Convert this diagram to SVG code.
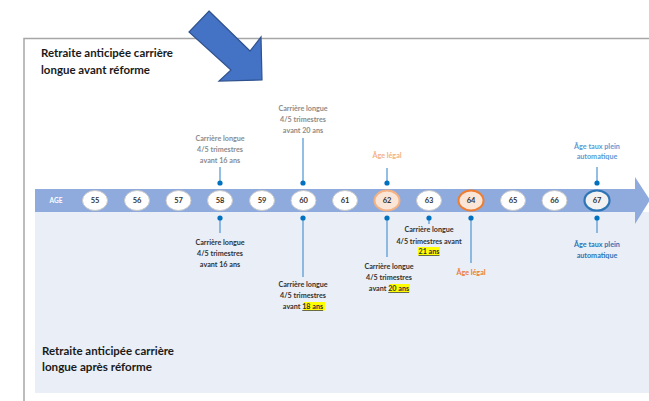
<svg xmlns="http://www.w3.org/2000/svg" width="649" height="401" viewBox="0 0 649 401">
<style>
.title{font-family:Lato,"Liberation Sans",sans-serif;font-weight:bold;font-size:12px;fill:#1a1a1a}
.lbl{font-family:Lato,"Liberation Sans",sans-serif;font-weight:bold;font-size:7.2px;text-anchor:middle}
.gray{fill:#8c8c8c}
.dark{fill:#333333}
.orl{fill:#f4b183}
.ord{fill:#ed7d31}
.bll{fill:#5b9bd5}
.bld{fill:#2e75b6}
.num{font-family:Lato,"Liberation Sans",sans-serif;font-weight:bold;font-size:7.5px;fill:#333;text-anchor:middle}
.c{fill:#ffffff;stroke:#c9c9c9;stroke-width:1}
.ln{stroke:#5b9bd5;stroke-width:1.3}
.dot{fill:#0070c0}
.hl{fill:#ffff00}
</style>
<rect x="35" y="212" width="614" height="181" fill="#e9eef7"/>
<path d="M24 401 V38.5 H649" fill="none" stroke="#a6a6a6" stroke-width="1.5"/>
<g id="title-top">
<text class="title" x="41" y="57" textLength="132" lengthAdjust="spacingAndGlyphs">Retraite anticipée carrière</text>
<text class="title" x="41" y="74" textLength="109" lengthAdjust="spacingAndGlyphs">longue avant réforme</text>
</g>
<g id="title-bottom">
<text class="title" x="42" y="355" textLength="132" lengthAdjust="spacingAndGlyphs">Retraite anticipée carrière</text>
<text class="title" x="42" y="371" textLength="110" lengthAdjust="spacingAndGlyphs">longue après réforme</text>
</g>
<g id="big-arrow">
<polygon points="209,11 250,51 261,37 262,80 219,81 231,70 189,32" fill="#4472c4" stroke="#2f528f" stroke-width="1.2" stroke-linejoin="miter"/>
</g>
<g id="timeline">
<polygon points="35,189 635,189 635,177 650,200 635,224 635,212 35,212" fill="#8faadc"/>
<text x="56" y="203" font-family="Lato,'Liberation Sans',sans-serif" font-weight="bold" font-size="6.5" fill="#ffffff" text-anchor="middle">AGE</text>
</g>
<g id="connectors">
<line class="ln" x1="220" y1="167" x2="220" y2="183"/><circle class="dot" cx="220" cy="183" r="2.6"/>
<line class="ln" x1="303" y1="138" x2="303" y2="183"/><circle class="dot" cx="303" cy="183" r="2.6"/>
<line class="ln" x1="387" y1="168" x2="387" y2="183"/><circle class="dot" cx="387" cy="183" r="2.6"/>
<line class="ln" x1="597" y1="167" x2="597" y2="183"/><circle class="dot" cx="597" cy="183" r="2.6"/>
<line class="ln" x1="220" y1="218" x2="220" y2="233"/><circle class="dot" cx="220" cy="218" r="2.6"/>
<line class="ln" x1="303" y1="218" x2="303" y2="277"/><circle class="dot" cx="303" cy="218" r="2.6"/>
<line class="ln" x1="387" y1="218" x2="387" y2="257"/><circle class="dot" cx="387" cy="218" r="2.6"/>
<line class="ln" x1="429" y1="218" x2="429" y2="224"/><circle class="dot" cx="429" cy="218" r="2.6"/>
<line class="ln" x1="471" y1="218" x2="471" y2="263"/><circle class="dot" cx="471" cy="218" r="2.6"/>
<line class="ln" x1="597" y1="218" x2="597" y2="233"/><circle class="dot" cx="597" cy="218" r="2.6"/>
</g>
<g id="age-55"><ellipse class="c" cx="95" cy="200.5" rx="12.5" ry="10"/><text class="num" x="95" y="203">55</text></g>
<g id="age-56"><ellipse class="c" cx="137" cy="200.5" rx="12.5" ry="10"/><text class="num" x="137" y="203">56</text></g>
<g id="age-57"><ellipse class="c" cx="178.5" cy="200.5" rx="12.5" ry="10"/><text class="num" x="178.5" y="203">57</text></g>
<g id="age-58"><ellipse class="c" cx="220" cy="200.5" rx="12.5" ry="10"/><text class="num" x="220" y="203">58</text></g>
<g id="age-59"><ellipse class="c" cx="262" cy="200.5" rx="12.5" ry="10"/><text class="num" x="262" y="203">59</text></g>
<g id="age-60"><ellipse class="c" cx="303.5" cy="200.5" rx="12.5" ry="10"/><text class="num" x="303.5" y="203">60</text></g>
<g id="age-61"><ellipse class="c" cx="345" cy="200.5" rx="12.5" ry="10"/><text class="num" x="345" y="203">61</text></g>
<g id="age-62"><ellipse cx="387" cy="200.5" rx="12.5" ry="10" fill="#fbe5d6" stroke="#f4b183" stroke-width="2"/><text class="num" x="387" y="203">62</text></g>
<g id="age-63"><ellipse class="c" cx="429" cy="200.5" rx="12.5" ry="10"/><text class="num" x="429" y="203">63</text></g>
<g id="age-64"><ellipse cx="471" cy="200.5" rx="12.5" ry="10" fill="#fbe5d6" stroke="#ed7d31" stroke-width="2"/><text class="num" x="471" y="203">64</text></g>
<g id="age-65"><ellipse class="c" cx="513" cy="200.5" rx="12.5" ry="10"/><text class="num" x="513" y="203">65</text></g>
<g id="age-66"><ellipse class="c" cx="554.5" cy="200.5" rx="12.5" ry="10"/><text class="num" x="554.5" y="203">66</text></g>
<g id="age-67"><ellipse cx="597" cy="200.5" rx="12.5" ry="10" fill="#f2f2f2" stroke="#2e75b6" stroke-width="2.2"/><text class="num" x="597" y="203">67</text></g>
<g id="label-58-top">
<text class="lbl gray" x="220" y="141">Carrière longue</text>
<text class="lbl gray" x="220" y="152">4/5 trimestres</text>
<text class="lbl gray" x="220" y="163">avant 16 ans</text>
</g>
<g id="label-60-top">
<text class="lbl gray" x="303" y="111">Carrière longue</text>
<text class="lbl gray" x="303" y="122">4/5 trimestres</text>
<text class="lbl gray" x="303" y="132.5">avant 20 ans</text>
</g>
<g id="label-62-top"><text class="lbl orl" x="387" y="158">Âge légal</text></g>
<g id="label-67-top">
<text class="lbl bll" x="597" y="149">Âge taux plein</text>
<text class="lbl bll" x="597" y="159">automatique</text>
</g>
<g id="label-58-bottom">
<text class="lbl dark" x="220" y="245">Carrière longue</text>
<text class="lbl dark" x="220" y="256">4/5 trimestres</text>
<text class="lbl dark" x="220" y="266.5">avant 16 ans</text>
</g>
<g id="label-60-bottom">
<text class="lbl dark" x="303" y="287">Carrière longue</text>
<text class="lbl dark" x="303" y="298">4/5 trimestres</text>
<rect class="hl" x="304" y="302" width="21" height="8.5"/>
<text class="lbl dark" x="303" y="309">avant <tspan text-decoration="underline">18 ans</tspan></text>
</g>
<g id="label-62-bottom">
<text class="lbl dark" x="389" y="269">Carrière longue</text>
<text class="lbl dark" x="389" y="280">4/5 trimestres</text>
<rect class="hl" x="389" y="284" width="21" height="8.5"/>
<text class="lbl dark" x="389" y="291">avant <tspan text-decoration="underline">20 ans</tspan></text>
</g>
<g id="label-63-bottom">
<text class="lbl dark" x="429" y="232">Carrière longue</text>
<text class="lbl dark" x="429" y="244">4/5 trimestres avant</text>
<rect class="hl" x="418" y="247" width="22" height="8.5"/>
<text class="lbl dark" x="429" y="254"><tspan text-decoration="underline">21 ans</tspan></text>
</g>
<g id="label-64-bottom"><text class="lbl ord" x="471" y="275">Âge légal</text></g>
<g id="label-67-bottom">
<text class="lbl bld" x="597" y="247">Âge taux plein</text>
<text class="lbl bld" x="597" y="258">automatique</text>
</g>
</svg>
